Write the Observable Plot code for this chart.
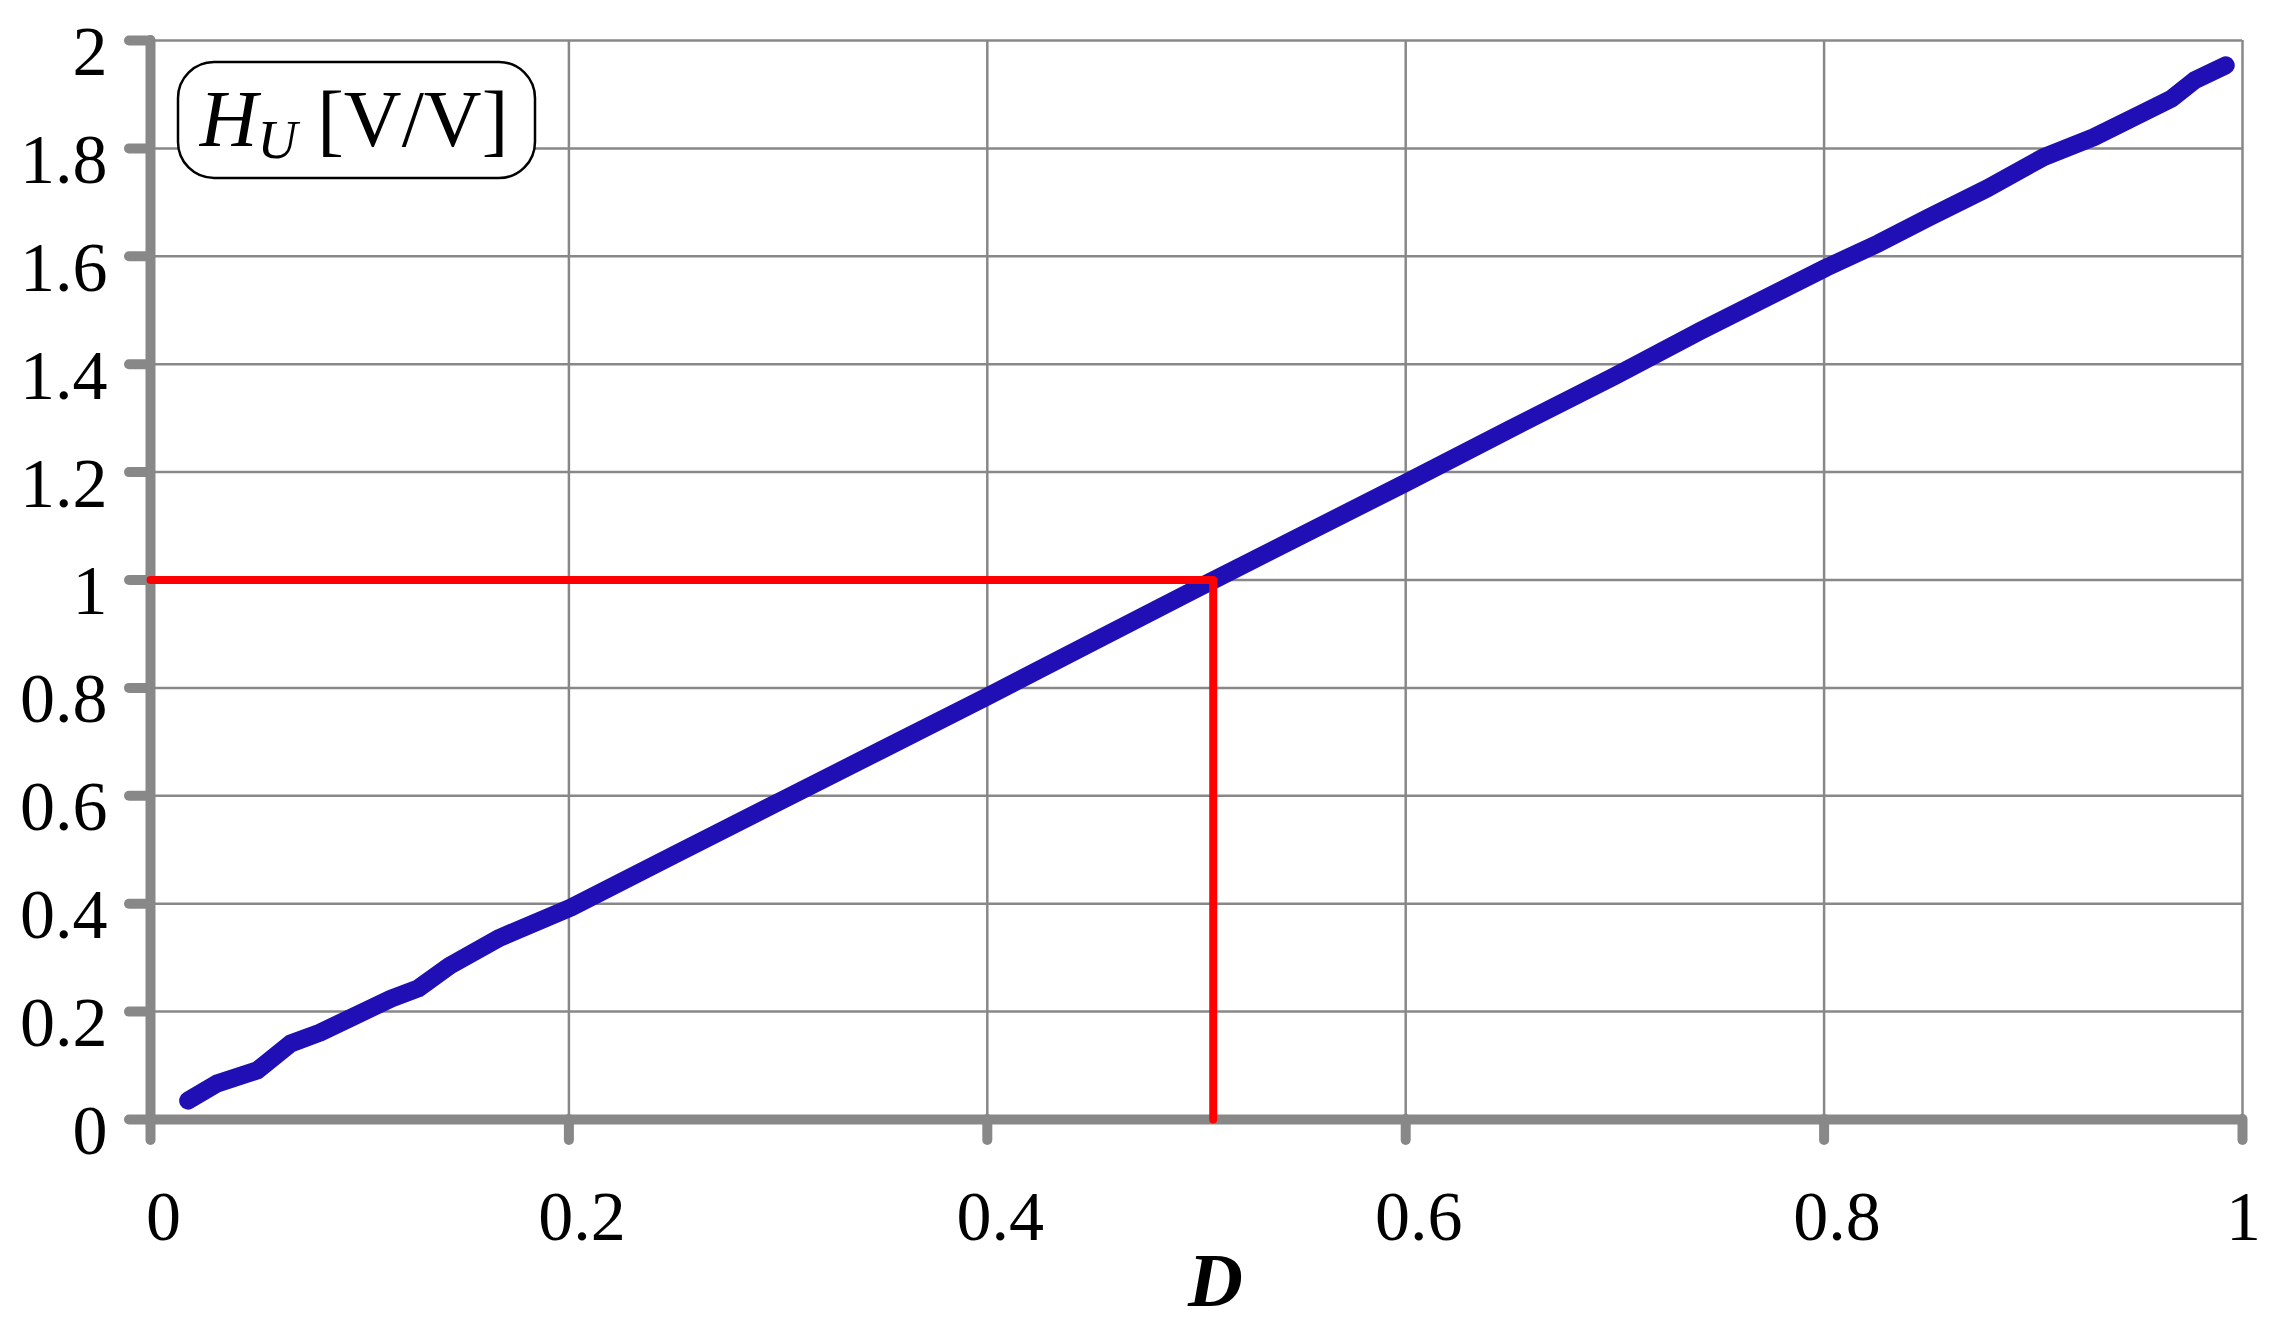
<!DOCTYPE html>
<html>
<head>
<meta charset="utf-8">
<script src="https://cdn.jsdelivr.net/npm/d3@7"></script>
<script src="https://cdn.jsdelivr.net/npm/@observablehq/plot@0.6"></script>
<style>
  html, body { margin: 0; padding: 0; background: white; }
</style>
</head>
<body>
<div id="chart"></div>
<script>
// Duty cycle D and voltage gain H_U
const D  = [0.018, 0.032, 0.051, 0.067, 0.081, 0.096, 0.115, 0.128, 0.143, 0.167, 0.201, 0.25, 0.3, 0.35, 0.4, 0.45, 0.5, 0.55, 0.6, 0.65, 0.7, 0.741, 0.801, 0.826, 0.85, 0.878, 0.905, 0.929, 0.953, 0.966, 0.977, 0.992];
const HU = [0.035, 0.067, 0.091, 0.141, 0.161, 0.189, 0.224, 0.243, 0.285, 0.337, 0.393, 0.49, 0.588, 0.686, 0.784, 0.884, 0.984, 1.082, 1.18, 1.28, 1.378, 1.462, 1.579, 1.624, 1.672, 1.726, 1.784, 1.821, 1.867, 1.892, 1.926, 1.954];

const xTicks = [0, 0.2, 0.4, 0.6, 0.8, 1];
const xTickLabels = ["0", "0.2", "0.4", "0.6", "0.8", "1"];
const yTicks = [0, 0.2, 0.4, 0.6, 0.8, 1, 1.2, 1.4, 1.6, 1.8, 2];
const yTickLabels = ["0", "0.2", "0.4", "0.6", "0.8", "1", "1.2", "1.4", "1.6", "1.8", "2"];

// Reference marker (unity gain point)
const refD = 0.508;
const refH = 1;
const guideD = [0, refD, refD];
const guideH = [refH, refH, 0];

const xLabel = "D";

const curve = D.map((d, i) => ({d, h: HU[i]}));
const guide = guideD.map((d, i) => ({d, h: guideH[i]}));

const gray = "#888888";
const serif = "'Liberation Serif', 'Times New Roman', serif";
const xFmt = (d) => xTickLabels[xTicks.indexOf(d)];

const svg = Plot.plot({
  width: 2269,
  height: 1328,
  marginLeft: 150,
  marginRight: 27,
  marginTop: 40,
  marginBottom: 209,
  x: {domain: [0, 1]},
  y: {domain: [0, 2]},
  style: {fontFamily: serif, fontSize: "70px", background: "white", color: "black", overflow: "visible"},
  marks: [
    Plot.gridX(xTicks, {stroke: gray, strokeOpacity: 1, strokeWidth: 2.5}),
    Plot.gridY(yTicks, {stroke: gray, strokeOpacity: 1, strokeWidth: 2.5}),
    Plot.ruleY([0], {stroke: gray, strokeWidth: 10, strokeLinecap: "round"}),
    Plot.ruleX([0], {stroke: gray, strokeWidth: 10, strokeLinecap: "round"}),
    Plot.axisX(xTicks, {tickSize: 21, stroke: gray, strokeWidth: 10, strokeLinecap: "round", fill: "none", label: null}),
    Plot.axisX(xTicks.slice(0, -1), {tickSize: 21, tickPadding: 50, stroke: "none", fill: "black", dx: 13, label: null, tickFormat: xFmt}),
    Plot.axisX(xTicks.slice(-1), {tickSize: 21, tickPadding: 50, stroke: "none", fill: "black", dx: 1, label: null, tickFormat: xFmt}),
    Plot.axisY(yTicks, {tickSize: 21, stroke: gray, strokeWidth: 10, strokeLinecap: "round", fill: "none", label: null}),
    Plot.axisY(yTicks, {tickSize: 21, tickPadding: 22, stroke: "none", fill: "black", dy: 12, label: null,
      tickFormat: (d) => yTickLabels[yTicks.indexOf(d)]}),
    Plot.line(curve, {x: "d", y: "h", stroke: "#1f0fb4", strokeWidth: 18, strokeLinecap: "round", strokeLinejoin: "round"}),
    Plot.line(guide, {x: "d", y: "h", stroke: "#ff0000", strokeWidth: 8, strokeLinecap: "round"}),
    Plot.text([xLabel], {frameAnchor: "bottom", dx: 19, dy: 186, fontWeight: "bold", fontStyle: "italic", fontSize: 76, fill: "black"})
  ]
});

// Annotation box: H_U [V/V]
const g = d3.select(svg).append("g");
g.append("rect")
  .attr("x", 178).attr("y", 62).attr("width", 357).attr("height", 116)
  .attr("rx", 36).attr("ry", 36)
  .attr("fill", "white").attr("stroke", "black").attr("stroke-width", 2.5);
const t = g.append("text")
  .attr("x", 354).attr("y", 146)
  .attr("text-anchor", "middle")
  .attr("font-family", serif)
  .attr("font-size", 80)
  .attr("fill", "black");
t.append("tspan").attr("font-style", "italic").text("H");
t.append("tspan").attr("font-style", "italic").attr("font-size", 55).attr("dy", 12).text("U");
t.append("tspan").attr("dy", -12).text(" [V/V]");

document.getElementById("chart").appendChild(svg);
</script>
</body>
</html>
